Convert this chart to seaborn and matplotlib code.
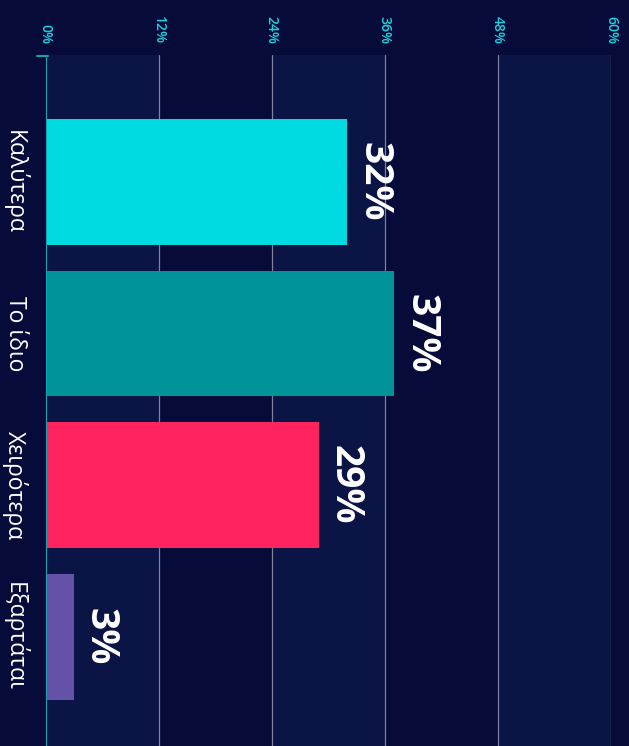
import pandas as pd
import seaborn as sns
import matplotlib.pyplot as plt

categories = ["Καλύτερα", "Το ίδιο", "Χειρότερα", "Εξαρτάται"]
values = [32, 37, 29, 3]
colors = ["#00dbe2", "#009499", "#ff2360", "#6352a8"]
ticks = [0, 12, 24, 36, 48, 60]
tick_labels = ["0%", "12%", "24%", "36%", "48%", "60%"]

df = pd.DataFrame({"cat": categories, "val": values})

sns.set_theme(style="white")
plt.rcParams["font.family"] = ["Open Sans", "Noto Sans", "DejaVu Sans"]

bg = "#070b3a"
fig = plt.figure(figsize=(6.29, 7.46), dpi=100, facecolor=bg)
ax = fig.add_axes([45.5 / 629, 0, (611 - 45.5) / 629, 1 - 55 / 746])
ax.set_facecolor(bg)

# alternating bands behind the bars
for i in range(0, len(ticks) - 1, 2):
    ax.axvspan(ticks[i], ticks[i + 1], color="#0a1545", zorder=0, lw=0)

sns.barplot(data=df, y="cat", x="val", hue="cat", palette=colors,
            orient="h", width=0.83, legend=False, ax=ax, zorder=3,
            saturation=1, edgecolor="none", linewidth=0)

ax.set_xlim(0, 60)
ax.set_ylim(3.72, -0.837)
for t in ticks[1:]:
    ax.axvline(t, color="#7d8299", lw=0.9, zorder=1)
ax.axvline(0, color="#14a3ae", lw=1.5, zorder=4)
ax.plot([-0.9, 0.3], [-0.83, -0.83], color="#14a3ae", lw=1.5,
        clip_on=False, zorder=4)

for s in ax.spines.values():
    s.set_visible(False)

ax.xaxis.tick_top()
ax.set_xticks(ticks)
ax.set_xticklabels(tick_labels, rotation=270, color="#19d3e0", fontsize=10,
                   fontweight="semibold")
ax.tick_params(axis="x", length=0, pad=8)
ax.set_yticks(range(len(categories)))
ax.set_yticklabels(categories, rotation=270, color="white", fontsize=16.5,
                   fontweight="medium", va="center", ha="center")
ax.tick_params(axis="y", length=0, pad=22)
ax.set_xlabel("")
ax.set_ylabel("")

for i, v in enumerate(values):
    ax.text(v + 0.75, i, f"{v}%", rotation=270, color="white", fontsize=28,
            fontweight="bold", ha="left", va="center", zorder=5)

fig.savefig("out.png", dpi=100, facecolor=bg)
